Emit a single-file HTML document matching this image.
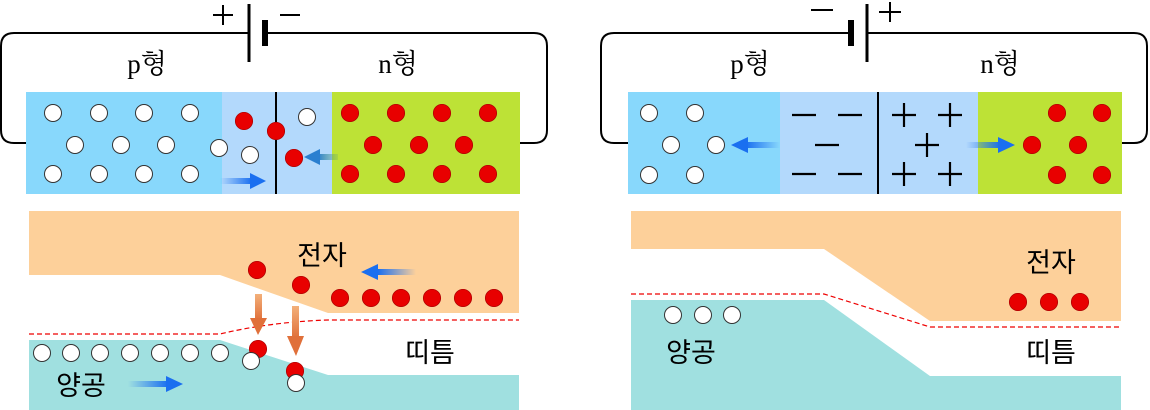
<!DOCTYPE html>
<html><head><meta charset="utf-8"><style>
html,body{margin:0;padding:0;background:#fff;width:1150px;height:410px;overflow:hidden}
svg text{font-family:"Liberation Sans","Noto Sans CJK KR",sans-serif;fill:#000}
.s{font-family:"Liberation Serif","Noto Serif CJK SC","Noto Sans CJK KR",serif}
</style></head><body>
<svg width="1150" height="410" viewBox="0 0 1150 410" xmlns="http://www.w3.org/2000/svg">
<defs>
<linearGradient id="br" x1="0" x2="1"><stop offset="0" stop-color="#1a6ff0" stop-opacity="0"/><stop offset="1" stop-color="#1a6ff0"/></linearGradient>
<linearGradient id="bl" x1="1" x2="0"><stop offset="0" stop-color="#1a6ff0" stop-opacity="0"/><stop offset="1" stop-color="#1a6ff0"/></linearGradient>
<linearGradient id="gl" x1="1" x2="0"><stop offset="0" stop-color="#5aa070" stop-opacity="0.2"/><stop offset="1" stop-color="#2a7fd0"/></linearGradient>
<linearGradient id="od" x1="0" y1="0" x2="0" y2="1"><stop offset="0" stop-color="#f3b07a"/><stop offset="1" stop-color="#e0703a"/></linearGradient>
<g id="h"><circle r="8.5" fill="#fff" stroke="#333" stroke-width="1"/></g>
<g id="e"><circle r="8.7" fill="#e80000" stroke="#a00" stroke-width="0.7"/></g>
</defs>

<!-- LEFT circuit -->
<path d="M26 143 H14 Q1 143 1 130 V46 Q1 33 14 33 H249 M265 33 H534 Q547 33 547 46 V130 Q547 143 534 143 H520" fill="none" stroke="#000" stroke-width="2"/>
<line x1="249" y1="4" x2="249" y2="62" stroke="#000" stroke-width="3"/>
<line x1="265" y1="20" x2="265" y2="46" stroke="#000" stroke-width="6"/>
<g stroke="#000" stroke-width="2">
<line x1="213" y1="15" x2="233" y2="15"/><line x1="223" y1="5" x2="223" y2="25"/>
<line x1="280" y1="15" x2="300" y2="15"/>
</g>
<text x="147" y="73" font-size="27" text-anchor="middle" class="s">p형</text>
<text x="398" y="73" font-size="27" text-anchor="middle" class="s">n형</text>
<rect x="26" y="92" width="196" height="102" fill="#88d8fc"/>
<rect x="222" y="92" width="110" height="102" fill="#b3d9fc"/>
<rect x="332" y="92" width="188" height="102" fill="#bde236"/>
<line x1="276" y1="92" x2="276" y2="194" stroke="#000" stroke-width="2"/>
<use href="#h" x="53" y="113"/><use href="#h" x="99" y="113"/><use href="#h" x="144" y="113"/><use href="#h" x="190" y="113"/>
<use href="#h" x="75" y="145"/><use href="#h" x="121" y="145"/><use href="#h" x="166" y="145"/><use href="#h" x="219" y="148"/>
<use href="#h" x="53" y="174"/><use href="#h" x="99" y="174"/><use href="#h" x="144" y="174"/><use href="#h" x="190" y="174"/>
<use href="#e" x="244" y="121"/><use href="#e" x="276" y="131"/><use href="#h" x="307" y="117"/><use href="#h" x="250" y="155"/><use href="#e" x="294" y="158"/>
<use href="#e" x="350" y="113"/><use href="#e" x="396" y="113"/><use href="#e" x="442" y="113"/><use href="#e" x="488" y="113"/>
<use href="#e" x="373" y="145"/><use href="#e" x="419" y="145"/><use href="#e" x="464" y="145"/>
<use href="#e" x="350" y="174"/><use href="#e" x="396" y="174"/><use href="#e" x="442" y="174"/><use href="#e" x="488" y="174"/>
<rect x="220" y="178" width="32" height="6" fill="url(#br)"/><polygon points="250,173 266,181 250,189" fill="#1a6ff0"/>
<rect x="318" y="154" width="20" height="6" fill="url(#gl)"/><polygon points="320,149 304,157 320,165" fill="#2a7fd0"/>

<!-- LEFT bands -->
<polygon points="29,211 519,211 519,313 328,313 220,275 29,275" fill="#fdd09a"/>
<polygon points="29,340 220,340 328,375 519,375 519,410 29,410" fill="#a0e0e0"/>
<path d="M29 334 H220 Q270 322 328 320 H519" fill="none" stroke="#e00" stroke-width="1.2" stroke-dasharray="5,3"/>
<text x="322" y="265" font-size="27" text-anchor="middle">전자</text>
<rect x="378" y="269" width="38" height="6" fill="url(#bl)"/><polygon points="378,264 361,272 378,280" fill="#1a6ff0"/>
<use href="#e" x="257" y="270"/><use href="#e" x="301" y="285"/>
<use href="#e" x="340" y="298"/><use href="#e" x="371" y="298"/><use href="#e" x="401" y="298"/><use href="#e" x="432" y="298"/><use href="#e" x="463" y="298"/><use href="#e" x="494" y="298"/>
<use href="#h" x="42" y="353"/><use href="#h" x="71" y="353"/><use href="#h" x="100" y="353"/><use href="#h" x="130" y="353"/><use href="#h" x="160" y="353"/><use href="#h" x="190" y="353"/><use href="#h" x="220" y="353"/>
<rect x="255" y="294" width="7" height="26" fill="url(#od)"/><polygon points="250,318 267,318 258,335" fill="#e0703a"/>
<rect x="292" y="306" width="7" height="32" fill="url(#od)"/><polygon points="287,336 304,336 296,356" fill="#e0703a"/>
<use href="#e" x="258" y="349"/><use href="#h" x="251" y="361"/>
<use href="#e" x="295" y="371"/><use href="#h" x="296" y="383"/>
<text x="430" y="362" font-size="27" text-anchor="middle">띠틈</text>
<text x="81" y="395" font-size="27" text-anchor="middle">양공</text>
<rect x="128" y="381" width="40" height="6" fill="url(#br)"/><polygon points="166,376 183,384 166,392" fill="#1a6ff0"/>

<!-- RIGHT circuit -->
<path d="M628 143 H614 Q601 143 601 130 V46 Q601 33 614 33 H850 M867 33 H1134 Q1147 33 1147 46 V130 Q1147 143 1134 143 H1122" fill="none" stroke="#000" stroke-width="2"/>
<line x1="867" y1="4" x2="867" y2="62" stroke="#000" stroke-width="3"/>
<line x1="851" y1="20" x2="851" y2="46" stroke="#000" stroke-width="6"/>
<g stroke="#000" stroke-width="2">
<line x1="811" y1="10" x2="833" y2="10"/>
<line x1="879" y1="12" x2="901" y2="12"/><line x1="890" y1="2" x2="890" y2="22"/>
</g>
<text x="750" y="73" font-size="27" text-anchor="middle" class="s">p형</text>
<text x="1000" y="73" font-size="27" text-anchor="middle" class="s">n형</text>
<rect x="628" y="92" width="152" height="102" fill="#88d8fc"/>
<rect x="780" y="92" width="198" height="102" fill="#b3d9fc"/>
<rect x="978" y="92" width="144" height="102" fill="#bde236"/>
<line x1="878" y1="92" x2="878" y2="194" stroke="#000" stroke-width="2"/>
<g stroke="#000" stroke-width="2.2">
<line x1="792" y1="115" x2="816" y2="115"/><line x1="838" y1="115" x2="862" y2="115"/>
<line x1="815" y1="145" x2="839" y2="145"/>
<line x1="792" y1="174" x2="816" y2="174"/><line x1="838" y1="174" x2="862" y2="174"/>
<line x1="892" y1="115" x2="916" y2="115"/><line x1="904" y1="103" x2="904" y2="127"/>
<line x1="938" y1="115" x2="962" y2="115"/><line x1="950" y1="103" x2="950" y2="127"/>
<line x1="915" y1="145" x2="939" y2="145"/><line x1="927" y1="133" x2="927" y2="157"/>
<line x1="892" y1="174" x2="916" y2="174"/><line x1="904" y1="162" x2="904" y2="186"/>
<line x1="938" y1="174" x2="962" y2="174"/><line x1="950" y1="162" x2="950" y2="186"/>
</g>
<use href="#h" x="649" y="113"/><use href="#h" x="695" y="113"/><use href="#h" x="671" y="145"/><use href="#h" x="716" y="145"/><use href="#h" x="649" y="175"/><use href="#h" x="695" y="175"/>
<rect x="746" y="142" width="34" height="6" fill="url(#bl)"/><polygon points="748,137 731,145 748,153" fill="#1a6ff0"/>
<rect x="966" y="142" width="34" height="6" fill="url(#br)"/><polygon points="998,137 1015,145 998,153" fill="#1a6ff0"/>
<use href="#e" x="1057" y="113"/><use href="#e" x="1102" y="113"/><use href="#e" x="1032" y="145"/><use href="#e" x="1078" y="145"/><use href="#e" x="1057" y="175"/><use href="#e" x="1102" y="175"/>

<!-- RIGHT bands -->
<polygon points="631,211 1121,211 1121,321 930,321 824,249 631,249" fill="#fdd09a"/>
<polygon points="631,300 824,300 930,376 1121,376 1121,410 631,410" fill="#a0e0e0"/>
<path d="M631 294 H824 L930 327 H1121" fill="none" stroke="#e00" stroke-width="1.2" stroke-dasharray="5,3"/>
<text x="1051" y="272" font-size="27" text-anchor="middle">전자</text>
<use href="#e" x="1018" y="302"/><use href="#e" x="1049" y="302"/><use href="#e" x="1080" y="302"/>
<use href="#h" x="673" y="315"/><use href="#h" x="703" y="315"/><use href="#h" x="732" y="315"/>
<text x="691" y="362" font-size="27" text-anchor="middle">양공</text>
<text x="1051" y="362" font-size="27" text-anchor="middle">띠틈</text>
</svg>
</body></html>
